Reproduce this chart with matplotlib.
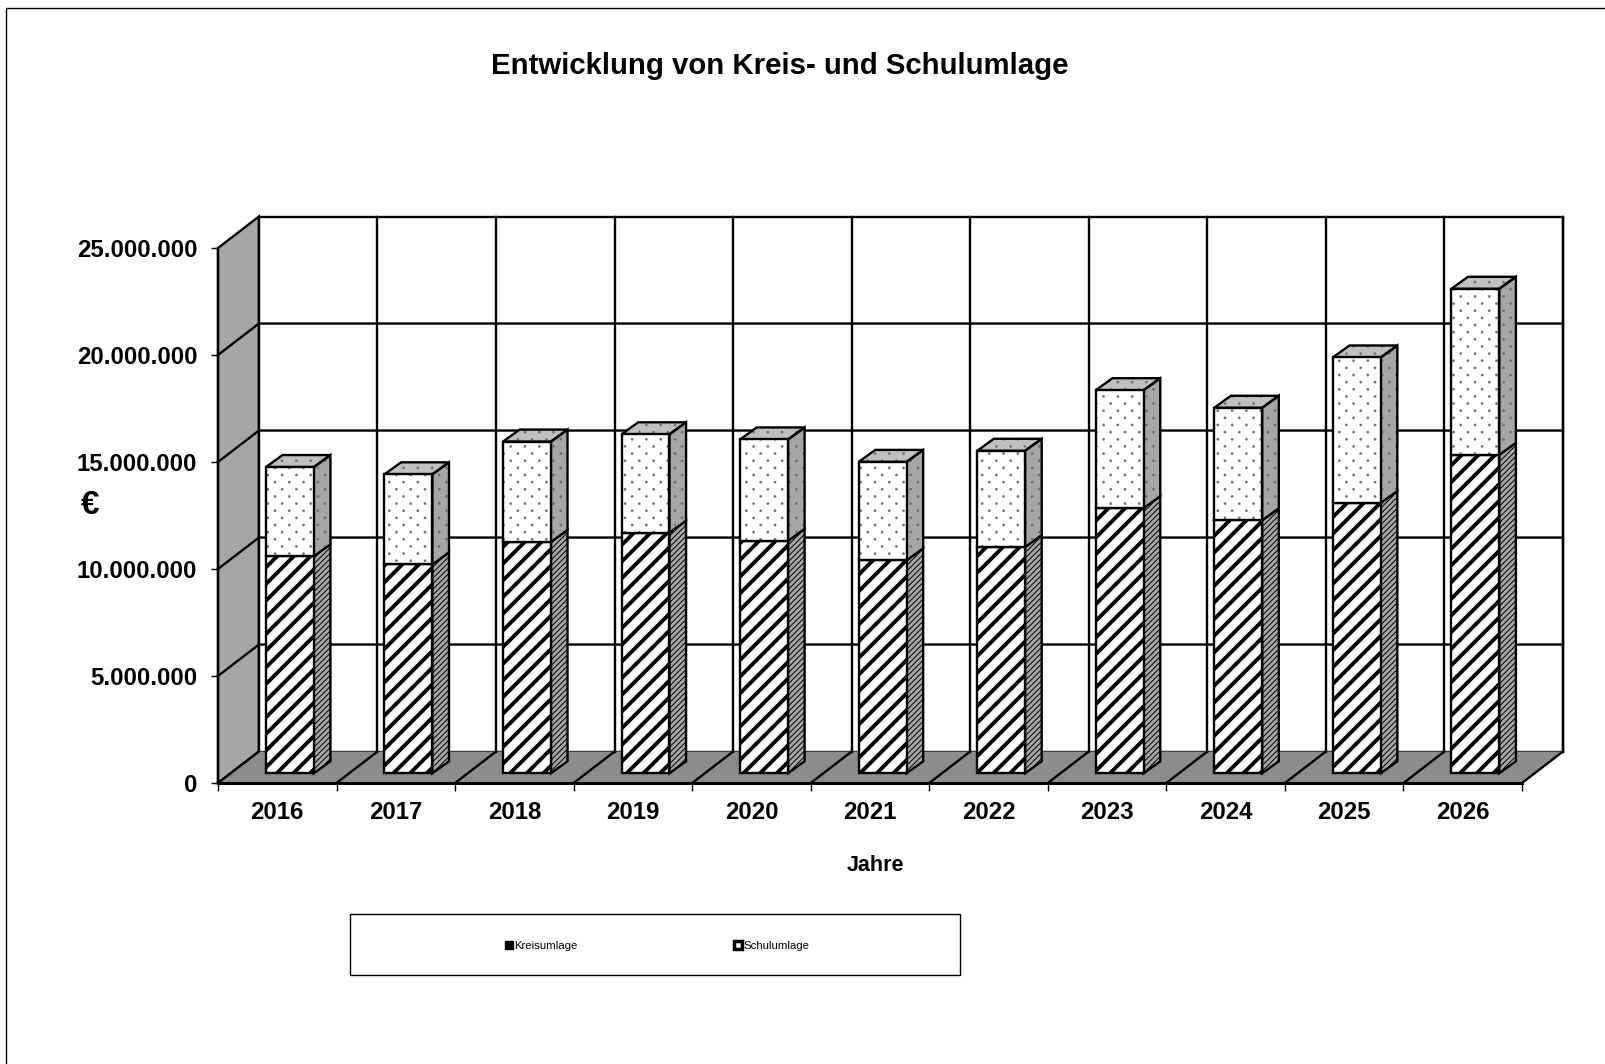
import numpy as np
import matplotlib
matplotlib.use('Agg')
import matplotlib.pyplot as plt
import matplotlib.hatch as mhatch
from matplotlib.path import Path
from matplotlib.patches import Polygon, Patch, Rectangle
from matplotlib.lines import Line2D

plt.rcParams['font.family'] = ['Liberation Sans', 'DejaVu Sans']

years = ['2016', '2017', '2018', '2019', '2020', '2021', '2022', '2023', '2024', '2025', '2026']
kreisumlage = [10.14e6, 9.76e6, 10.81e6, 11.24e6, 10.86e6, 9.95e6, 10.57e6, 12.39e6, 11.82e6, 12.63e6, 14.88e6]
schulumlage = [4.17e6, 4.21e6, 4.69e6, 4.60e6, 4.74e6, 4.60e6, 4.50e6, 5.51e6, 5.26e6, 6.80e6, 7.76e6]
y_ticks = [0, 5000000, 10000000, 15000000, 20000000, 25000000]
y_tick_labels = ['0', '5.000.000', '10.000.000', '15.000.000', '20.000.000', '25.000.000']


# Punktraster wie im Original: Zeilen doppelt so dicht wie Spalten
class SparseDots(mhatch.HatchPatternBase):
    rows = 14
    cols = 7
    radius = 0.0125

    def __init__(self, hatch, density):
        self.on = hatch.count('.') > 0
        circle = Path.unit_circle()
        self.circle_v = circle.vertices
        self.circle_c = circle.codes
        self.num_vertices = self.rows * self.cols * len(self.circle_v) if self.on else 0

    def set_vertices_and_codes(self, vertices, codes):
        k = len(self.circle_v)
        cursor = 0
        for r in range(self.rows):
            for c in range(self.cols):
                cx = (c + 0.25 + 0.5 * (r % 2)) / self.cols
                cy = (r + 0.5) / self.rows
                vertices[cursor:cursor + k] = self.circle_v * self.radius + [cx, cy]
                codes[cursor:cursor + k] = self.circle_c
                cursor += k


mhatch._hatch_types[mhatch._hatch_types.index(mhatch.SmallFilledCircles)] = SparseDots

W, H = 1606, 1064
fig = plt.figure(figsize=(W / 100, H / 100), dpi=100)

# Pixelrahmen der vorderen Achsenebene
left, right, top, bottom = 218, 1522, 248, 783
ax = fig.add_axes([left / W, 1 - bottom / H, (right - left) / W, (bottom - top) / H])
n = len(years)
ax.set_xlim(0, n)
ax.set_ylim(0, 25e6)
ax.patch.set_visible(False)

# Pseudo-3D Tiefe in Dateneinheiten
dx = 0.345
dy = 1.47e6
bar_w = 0.404
bar_dx = 0.14
bar_dy = 0.56e6
off_x = (dx - bar_dx) / 2 + 0.004
off_y = (dy - bar_dy) / 2
lw = 1.7


def poly(pts, fc, hatch=None, z=2, hlw=1.0, edge='black'):
    plt.rcParams['hatch.linewidth'] = hlw
    p = Polygon(pts, closed=True, facecolor=fc, edgecolor=edge, linewidth=lw,
                hatch=hatch, zorder=z, clip_on=False, joinstyle='miter')
    ax.add_patch(p)
    return p


def dotted_poly(pts, fc):
    # Punkte in Grau, Umriss extra in Schwarz
    plt.rcParams['hatch.linewidth'] = 0.1
    ax.add_patch(Polygon(pts, closed=True, facecolor=fc, edgecolor='#6e6e6e', linewidth=0,
                         hatch='.', zorder=2.8, clip_on=False))
    ax.add_patch(Polygon(pts, closed=True, fill=False, edgecolor='black', linewidth=lw,
                         zorder=2.81, clip_on=False, joinstyle='miter'))


# Wand und Boden
poly([(0, 0), (dx, dy), (dx, 25e6 + dy), (0, 25e6)], '#a6a6a6', z=1)
poly([(dx, dy), (n + dx, dy), (n + dx, 25e6 + dy), (dx, 25e6 + dy)], 'white', z=1)
ax.add_patch(Polygon([(0, 0), (n, 0), (n + dx, dy), (dx, dy)], closed=True, facecolor='#8c8c8c',
                     edgecolor='none', zorder=1.5, clip_on=False))
for v in y_ticks[1:-1]:
    ax.plot([0, dx, n + dx], [v, v + dy, v + dy], color='black', lw=lw, zorder=1.7, clip_on=False)
ax.plot([n + dx, n + dx], [dy, 25e6 + dy], color='black', lw=lw, zorder=1.7, clip_on=False)
for i in range(n + 1):
    if i > 0 and i < n:
        ax.plot([i + dx, i + dx], [dy, 25e6 + dy], color='black', lw=lw, zorder=1.7, clip_on=False)
    ax.plot([i, i + dx], [0, dy], color='black', lw=lw, zorder=1.7, clip_on=False)

# Balken
x = np.arange(n) + 0.5 + off_x
kreis = np.array(kreisumlage)
schul = np.array(schulumlage)
plt.rcParams['hatch.linewidth'] = 2.8
ax.bar(x, kreis, bar_w, bottom=off_y, facecolor='white', edgecolor='black', linewidth=lw,
       hatch='//', zorder=3, clip_on=False)
plt.rcParams['hatch.linewidth'] = 0.1
ax.bar(x, schul, bar_w, bottom=off_y + kreis, facecolor='white', edgecolor='#6e6e6e', linewidth=0,
       hatch='.', zorder=3, clip_on=False)
ax.bar(x, schul, bar_w, bottom=off_y + kreis, fill=False, edgecolor='black', linewidth=lw,
       zorder=3.1, clip_on=False)

for i in range(n):
    x1 = x[i] + bar_w / 2
    x2 = x1 + bar_dx
    x0 = x[i] - bar_w / 2
    y0 = off_y
    y1 = off_y + kreis[i]
    y2 = y1 + schul[i]
    poly([(x1, y0), (x2, y0 + bar_dy), (x2, y1 + bar_dy), (x1, y1)], '#a6a6a6', hatch='//////', z=2.8, hlw=0.7)
    dotted_poly([(x1, y1), (x2, y1 + bar_dy), (x2, y2 + bar_dy), (x1, y2)], '#a6a6a6')
    dotted_poly([(x0, y2), (x1, y2), (x2, y2 + bar_dy), (x0 + bar_dx, y2 + bar_dy)], '#c0c0c0')

# Achsen
for s in ['top', 'right']:
    ax.spines[s].set_visible(False)
ax.spines['left'].set_linewidth(lw)
ax.spines['bottom'].set_linewidth(2.2)
ax.spines['left'].set_zorder(2)
ax.set_yticks(y_ticks)
ax.set_yticklabels(y_tick_labels, fontsize=17.3, fontweight='bold')
ax.tick_params(axis='y', length=5, width=1, pad=10)
ax.set_xticks(np.arange(n + 1))
ax.set_xticklabels([])
ax.set_xticks(np.arange(n) + 0.5, minor=True)
ax.set_xticklabels(years, minor=True, fontsize=17.3, fontweight='bold')
ax.tick_params(axis='x', which='major', length=6, width=1)
ax.tick_params(axis='x', which='minor', length=0, pad=13)

ax.set_xlabel('Jahre', fontsize=15.5, fontweight='bold', labelpad=22, x=0.504)
fig.text(90 / W, 1 - 505 / H, '€', fontsize=24, fontweight='bold', ha='center', va='center')
fig.text(780 / W, 1 - 66 / H, 'Entwicklung von Kreis- und Schulumlage', fontsize=21.15,
         fontweight='bold', ha='center', va='center')

# Legende
fig.add_artist(Rectangle((350 / W, 1 - 975 / H), 610 / W, 61 / H, transform=fig.transFigure,
                         facecolor='white', edgecolor='black', linewidth=1))
handles = [Patch(facecolor='black', edgecolor='black', label='Kreisumlage'),
           Patch(facecolor='white', edgecolor='black', linewidth=2.5, label='Schulumlage')]
leg = fig.legend(handles=handles, ncol=2, loc='center', bbox_to_anchor=(657 / W, 1 - 946 / H), frameon=False,
                 fontsize=8.2, handlelength=0.7, handleheight=0.7, handletextpad=0.1, columnspacing=13.8,
                 borderpad=0)
leg.set_zorder(5)

# Aeusserer Rahmen
fig.add_artist(Line2D([6 / W, 6 / W, 1], [0, 1 - 8 / H, 1 - 8 / H], transform=fig.transFigure,
                      color='black', lw=1))

fig.savefig('out.png', dpi=100)
